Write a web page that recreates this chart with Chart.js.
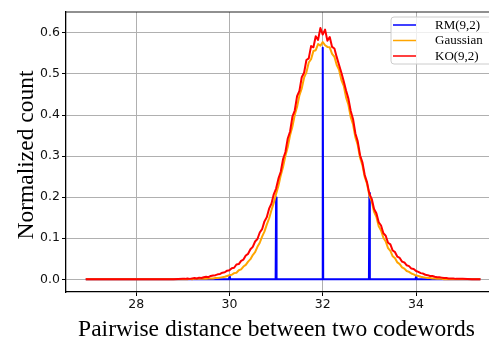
<!DOCTYPE html>
<html>
<head>
<meta charset="utf-8">
<script src="https://cdn.jsdelivr.net/npm/chart.js@4/dist/chart.umd.min.js"></script>
<style>
  html, body { margin: 0; padding: 0; background: #fff; overflow: hidden; }
  #wrap { position: relative; width: 500px; height: 341px; }
</style>
</head>
<body>
<div id="wrap"><canvas id="c"></canvas></div>
<script>
// ---- data ----
const seriesLabels = ['RM(9,2)', 'Gaussian', 'KO(9,2)'];
const seriesColors = ['#0000ff', '#ffa500', '#ff0000'];

const xTickValues = [28, 30, 32, 34];
const yTickValues = [0, 0.1, 0.2, 0.3, 0.4, 0.5, 0.6];

// RM(9,2): spikes at integer distances
const rmDistances = [26.92, 29.99, 30, 30.01, 30.99, 31, 31.01, 31.99, 32, 32.01, 32.99, 33, 33.01, 33.99, 34, 34.01, 35.38];
const rmCounts    = [0, 0, 0.006, 0, 0, 0.199, 0, 0, 0.564, 0, 0, 0.21, 0, 0, 0.006, 0, 0];

// shared distance grid for Gaussian and KO(9,2)
const distances = [
  26.92, 27.3, 27.7, 28.1, 28.5, 28.8,
  29.00, 29.05, 29.10, 29.15, 29.20, 29.25, 29.30, 29.35, 29.40, 29.45,
  29.50, 29.55, 29.60, 29.65, 29.70, 29.75, 29.80, 29.85, 29.90, 29.95,
  30.00, 30.05, 30.10, 30.15, 30.20, 30.25, 30.30, 30.35, 30.40, 30.45,
  30.50, 30.55, 30.60, 30.65, 30.70, 30.75, 30.80, 30.85, 30.90, 30.95,
  31.00, 31.05, 31.10, 31.15, 31.20, 31.25, 31.30, 31.35, 31.40, 31.45,
  31.50, 31.55, 31.60, 31.65, 31.70, 31.75, 31.80, 31.85, 31.90, 31.95,
  32.00,
  32.05, 32.10, 32.15, 32.20, 32.25, 32.30, 32.35, 32.40, 32.45, 32.50,
  32.55, 32.60, 32.65, 32.70, 32.75, 32.80, 32.85, 32.90, 32.95, 33.00,
  33.05, 33.10, 33.15, 33.20, 33.25, 33.30, 33.35, 33.40, 33.45, 33.50,
  33.55, 33.60, 33.65, 33.70, 33.75, 33.80, 33.85, 33.90, 33.95, 34.00,
  34.05, 34.10, 34.15, 34.20, 34.25, 34.30, 34.35, 34.40, 34.45, 34.50,
  34.55, 34.60, 34.65, 34.70, 34.75, 34.80, 34.85, 34.90, 34.95, 35.00,
  35.2, 35.38
];

const gaussianCounts = [
  0, 0, 0, 0, 0, 0,
  0, 0, 0, 0.001, 0, 0.001, 0.001, 0.001, 0.001, 0.002,
  0.001, 0.002, 0.002, 0.002, 0.003, 0.003, 0.004, 0.005, 0.006, 0.008,
  0.010, 0.011, 0.015, 0.016, 0.022, 0.024, 0.031, 0.035, 0.043, 0.049,
  0.059, 0.066, 0.079, 0.089, 0.104, 0.116, 0.133, 0.148, 0.168, 0.186,
  0.208, 0.228, 0.253, 0.274, 0.301, 0.322, 0.351, 0.372, 0.400, 0.420,
  0.448, 0.465, 0.491, 0.504, 0.528, 0.536, 0.556, 0.558, 0.573, 0.569,
  0.578,
  0.570, 0.566, 0.565, 0.549, 0.542, 0.522, 0.510, 0.485, 0.471, 0.443,
  0.425, 0.395, 0.377, 0.346, 0.327, 0.296, 0.278, 0.249, 0.232, 0.204,
  0.190, 0.164, 0.152, 0.129, 0.119, 0.101, 0.092, 0.076, 0.069, 0.056,
  0.051, 0.041, 0.037, 0.029, 0.026, 0.020, 0.018, 0.014, 0.012, 0.009,
  0.008, 0.006, 0.005, 0.004, 0.003, 0.003, 0.002, 0.002, 0.001, 0.001,
  0.001, 0, 0, 0, 0, 0, 0, 0, 0, 0,
  0, 0
];

const koCounts = [
  0, 0, 0, 0, 0, 0,
  0.001, 0.001, 0.002, 0.001, 0.002, 0.003, 0.002, 0.004, 0.003, 0.005,
  0.006, 0.005, 0.008, 0.009, 0.010, 0.012, 0.013, 0.016, 0.017, 0.021,
  0.022, 0.027, 0.028, 0.036, 0.037, 0.045, 0.048, 0.058, 0.062, 0.073,
  0.079, 0.092, 0.098, 0.114, 0.122, 0.141, 0.151, 0.172, 0.184, 0.207,
  0.221, 0.245, 0.262, 0.293, 0.310, 0.343, 0.360, 0.396, 0.411, 0.446,
  0.459, 0.492, 0.503, 0.534, 0.538, 0.568, 0.565, 0.592, 0.583, 0.612,
  0.596,
  0.608, 0.581, 0.590, 0.566, 0.562, 0.541, 0.522, 0.503, 0.482, 0.460,
  0.440, 0.410, 0.390, 0.355, 0.336, 0.302, 0.285, 0.254, 0.236, 0.208,
  0.196, 0.171, 0.161, 0.139, 0.131, 0.112, 0.106, 0.089, 0.085, 0.070,
  0.066, 0.055, 0.052, 0.043, 0.041, 0.034, 0.032, 0.026, 0.025, 0.020,
  0.018, 0.015, 0.014, 0.011, 0.010, 0.008, 0.008, 0.006, 0.005, 0.005,
  0.004, 0.003, 0.003, 0.002, 0.002, 0.002, 0.001, 0.001, 0.001, 0.001,
  0, 0
];

const xTitle = 'Pairwise distance between two codewords';
const yTitle = 'Normalized count';

// ---- build ----
const toPts = (xs, ys) => xs.map((x, i) => ({ x: x, y: ys[i] }));

const SERIF = '"Liberation Serif", "Times New Roman", serif';
const SANS = '"DejaVu Sans", sans-serif';

const framePlugin = {
  id: 'frame',
  afterDraw(chart) {
    const ctx = chart.ctx;
    const a = chart.chartArea;
    ctx.save();
    // top spine
    ctx.strokeStyle = '#222';
    ctx.lineWidth = 1.2;
    ctx.beginPath();
    ctx.moveTo(a.left, a.top);
    ctx.lineTo(a.right, a.top);
    ctx.stroke();

    // axis titles
    ctx.fillStyle = '#000';
    ctx.font = '23.5px ' + SERIF;
    ctx.textAlign = 'center';
    ctx.textBaseline = 'alphabetic';
    ctx.fillText(xTitle, 276.5, 336);
    ctx.save();
    ctx.translate(33, 155);
    ctx.rotate(-Math.PI / 2);
    ctx.fillText(yTitle, 0, 0);
    ctx.restore();

    // legend
    const bx = 391, by = 17, bw = 110, bh = 47, r = 3;
    ctx.fillStyle = 'rgba(255,255,255,0.8)';
    ctx.strokeStyle = '#cccccc';
    ctx.lineWidth = 1;
    ctx.beginPath();
    ctx.moveTo(bx + r, by);
    ctx.lineTo(bx + bw - r, by);
    ctx.arcTo(bx + bw, by, bx + bw, by + r, r);
    ctx.lineTo(bx + bw, by + bh - r);
    ctx.arcTo(bx + bw, by + bh, bx + bw - r, by + bh, r);
    ctx.lineTo(bx + r, by + bh);
    ctx.arcTo(bx, by + bh, bx, by + bh - r, r);
    ctx.lineTo(bx, by + r);
    ctx.arcTo(bx, by, bx + r, by, r);
    ctx.closePath();
    ctx.fill();
    ctx.stroke();

    const rows = [25, 40.5, 56];
    ctx.font = '13px ' + SERIF;
    ctx.textAlign = 'left';
    ctx.textBaseline = 'middle';
    chart.data.datasets.forEach((ds, i) => {
      const yy = rows[i];
      ctx.strokeStyle = ds.borderColor;
      ctx.lineWidth = 1.5;
      ctx.beginPath();
      ctx.moveTo(393, yy);
      ctx.lineTo(416, yy);
      ctx.stroke();
      ctx.fillStyle = '#000';
      ctx.fillText(ds.label, 435, yy + 0.5);
    });
    ctx.restore();
  }
};

const common = {
  showLine: true, pointRadius: 0, pointHoverRadius: 0, tension: 0,
  borderWidth: 2, borderJoinStyle: 'round', fill: false
};

new Chart(document.getElementById('c'), {
  type: 'scatter',
  data: {
    datasets: [
      Object.assign({}, common, { label: seriesLabels[0], data: toPts(rmDistances, rmCounts), borderColor: seriesColors[0], backgroundColor: seriesColors[0], order: 3 }),
      Object.assign({}, common, { label: seriesLabels[1], data: toPts(distances, gaussianCounts), borderColor: seriesColors[1], backgroundColor: seriesColors[1], order: 2 }),
      Object.assign({}, common, { label: seriesLabels[2], data: toPts(distances, koCounts), borderColor: seriesColors[2], backgroundColor: seriesColors[2], order: 1 })
    ]
  },
  options: {
    responsive: true,
    maintainAspectRatio: false,
    animation: false,
    events: [],
    layout: { padding: { top: 12, right: 0, left: 0, bottom: 0 } },
    plugins: { legend: { display: false }, tooltip: { enabled: false }, title: { display: false } },
    scales: {
      x: {
        type: 'linear', min: 26.496, max: 35.80,
        afterBuildTicks: (s) => { s.ticks = xTickValues.map(v => ({ value: v })); },
        afterFit: (s) => { s.height = 49; },
        grid: { color: '#b0b0b0', lineWidth: 1, tickColor: '#000', tickLength: 4, drawTicks: true },
        border: { display: true, color: '#000', width: 1.3 },
        ticks: { color: '#111', font: { family: SANS, size: 12.5 }, padding: 1, maxRotation: 0,
                 callback: (v) => String(v) }
      },
      y: {
        type: 'linear', min: -0.031, max: 0.651,
        afterBuildTicks: (s) => { s.ticks = yTickValues.map(v => ({ value: v })); },
        afterFit: (s) => { s.width = 66; },
        grid: { color: '#b0b0b0', lineWidth: 1, tickColor: '#000', tickLength: 4, drawTicks: true },
        border: { display: true, color: '#000', width: 1.3 },
        ticks: { color: '#111', font: { family: SANS, size: 12.5 }, padding: 2,
                 callback: (v) => Number(v).toFixed(1) }
      }
    }
  },
  plugins: [framePlugin]
});
</script>
</body>
</html>
